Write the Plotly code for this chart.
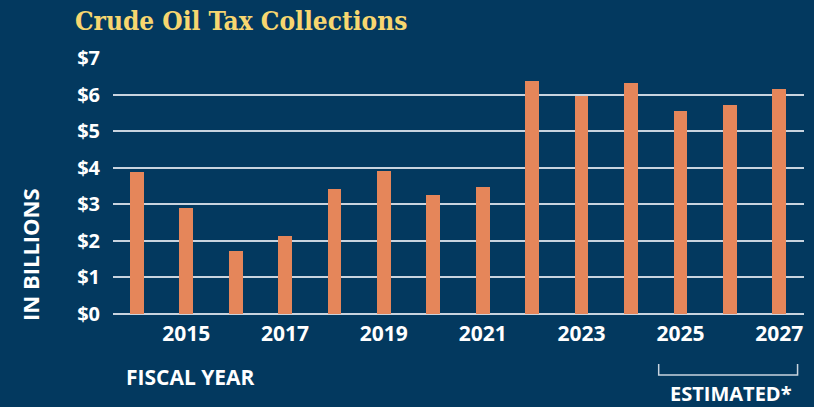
import plotly.graph_objects as go

years = [2014, 2015, 2016, 2017, 2018, 2019, 2020, 2021, 2022, 2023, 2024, 2025, 2026, 2027]
collections = [3.88, 2.90, 1.72, 2.13, 3.42, 3.91, 3.25, 3.47, 6.37, 5.96, 6.31, 5.55, 5.71, 6.15]
y_ticks = [0, 1, 2, 3, 4, 5, 6, 7]
y_labels = ["$0", "$1", "$2", "$3", "$4", "$5", "$6", "$7"]
x_ticks = [2015, 2017, 2019, 2021, 2023, 2025, 2027]

BG = "#03395f"
BAR = "#e5865a"
TITLE = "#f7d670"
WHITE = "#ffffff"
GRID = "#c9d4df"
FONT = "Open Sans"

fig = go.Figure()
fig.add_trace(go.Bar(x=years, y=collections, marker_color=BAR, marker_line_width=0, width=0.28))

fig.update_layout(
    width=814, height=407,
    paper_bgcolor=BG, plot_bgcolor=BG,
    margin=dict(l=113, r=10, t=58, b=93),
    showlegend=False,
    title=dict(text="Crude Oil Tax Collections", x=75 / 814, xanchor="left",
               y=1 - 21 / 407, yanchor="middle",
               font=dict(family="DejaVu Serif Condensed, DejaVu Serif", size=26, color=TITLE, weight=900)),
    xaxis=dict(range=[2013.52, 2027.5], tickvals=x_ticks, ticktext=[str(v) for v in x_ticks],
               showgrid=False, zeroline=False, showline=False, ticks="",
               ticklabelstandoff=5,
               tickfont=dict(family=FONT, size=21, color=WHITE, weight=700)),
    yaxis=dict(range=[0, 7], tickvals=y_ticks, ticktext=y_labels,
               showgrid=True, gridcolor=GRID, gridwidth=1.5, zeroline=True, zerolinecolor=GRID, zerolinewidth=2,
               showline=False, ticks="", ticklabelstandoff=12,
               tickfont=dict(family=FONT, size=20, color=WHITE, weight=700)),
    bargap=0,
)

fig.add_annotation(text="IN BILLIONS", xref="paper", yref="paper", x=-83 / 691, y=(314 - 255) / 256,
                   textangle=-90, showarrow=False, xanchor="center", yanchor="middle",
                   font=dict(family=FONT, size=22, color=WHITE, weight=700))
fig.add_annotation(text="FISCAL YEAR", xref="paper", yref="paper", x=(124 - 113) / 691, y=(314 - 377) / 256,
                   showarrow=False, xanchor="left", yanchor="middle",
                   font=dict(family=FONT, size=21, color=WHITE, weight=700))
fig.add_annotation(text="ESTIMATED*", xref="x", yref="paper", x=2026.03, y=(314 - 393) / 256,
                   showarrow=False, xanchor="center", yanchor="middle",
                   font=dict(family=FONT, size=20, color=WHITE, weight=700))

y_top = (314 - 364) / 256
y_bot = (314 - 375) / 256
fig.add_shape(type="path", xref="x", yref="paper",
              path=f"M 2024.56 {y_top} L 2024.56 {y_bot} L 2027.37 {y_bot} L 2027.37 {y_top}",
              line=dict(color=GRID, width=1.5))

fig.write_html("out.html")
